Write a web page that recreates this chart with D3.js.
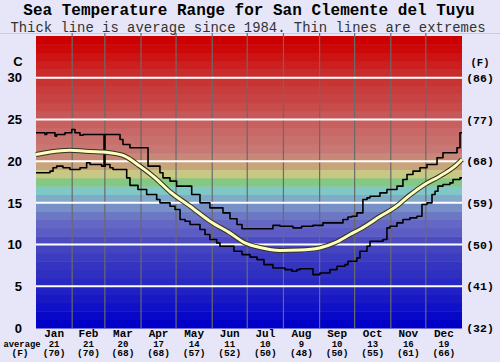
<!DOCTYPE html>
<html>
<head>
<meta charset="utf-8">
<script src="https://cdn.jsdelivr.net/npm/d3@7"></script>
<style>
  body { margin: 0; background: #e6e6f8; }
  svg { display: block; }
</style>
</head>
<body>
<div id="chart"></div>
<script>
// DATA -------------------------------------------------------------------------
const monthNames = ["Jan", "Feb", "Mar", "Apr", "May", "Jun", "Jul", "Aug", "Sep", "Oct", "Nov", "Dec"]
const monthStarts = [0, 31, 59, 90, 120, 151, 181, 212, 243, 273, 304, 334, 365]
const monthAvgC = [21, 21, 20, 17, 14, 11, 10, 9, 10, 13, 16, 19]
const monthAvgF = [70, 70, 68, 68, 57, 52, 50, 48, 50, 55, 61, 66]

const tempTicksC = [0, 5, 10, 15, 20, 25, 30]
const tempTicksF = [32, 41, 50, 59, 68, 77, 86]

// day of year, deg C
const avgTemp = [
  [0, 20.8], [12, 21.1], [29, 21.3], [42, 21.2], [55, 21.1], [63, 21.0], [76, 20.6],
  [89, 19.4], [102, 18.0], [115, 16.3], [132, 14.6], [149, 12.8], [166, 11.4],
  [179, 10.2], [192, 9.65], [209, 9.3], [226, 9.35], [243, 9.6], [256, 10.2],
  [269, 11.2], [282, 12.2], [295, 13.4], [308, 14.5], [320, 15.9], [333, 17.2],
  [346, 18.2], [359, 19.4], [365, 20.2]
]

// step changes: day of year where a new value starts, deg C
const maxTemp = [
  [0, 23.4], [7.7, 23.2], [9.2, 23.4], [16.3, 23.0], [17.7, 23.2], [24.8, 23.4],
  [30.6, 23.8], [33.4, 23.4], [37.7, 23.1], [40.3, 23.2], [58.3, 19.4], [59.1, 23.2],
  [72, 22.6], [74.5, 22.0], [80.5, 21.6], [96, 19.4], [106.2, 18.6], [108.8, 18.0],
  [114.8, 17.6], [120.5, 17.0], [133.4, 16.0], [140.5, 15.0], [149, 14.4],
  [160.2, 13.8], [166.2, 13.1], [172.2, 12.4], [176.5, 11.9], [203, 12.3],
  [209, 12.2], [220.2, 12.0], [227.6, 12.2], [237.3, 12.3], [245.9, 12.6],
  [263, 13.0], [267.3, 13.3], [270.7, 13.4], [275, 13.8], [280.1, 15.4],
  [283.6, 15.6], [286.2, 15.8], [294.7, 16.2], [300.7, 16.6], [309.3, 17.0],
  [314.4, 17.8], [317.9, 18.4], [323, 18.8], [329, 19.2], [335, 19.6],
  [343.6, 20.4], [348.7, 21.0], [360.7, 21.6], [363.3, 23.4], [365, 23.4]
]

const minTemp = [
  [0, 18.6], [12, 18.8], [14.6, 19.2], [17.7, 19.4], [23.1, 19.2], [29.1, 19.0],
  [37.7, 19.2], [43.4, 19.8], [46.3, 19.6], [56.3, 19.4], [59.1, 19.6], [63.4, 19.2],
  [66, 19.0], [77.7, 18.0], [80.5, 17.1], [87.4, 16.6], [94.8, 16.0], [103.4, 15.4],
  [106.2, 15.0], [114.8, 14.6], [119.1, 14.2], [123.4, 13.0], [127.7, 12.8],
  [132, 12.4], [140.5, 11.8], [144.8, 11.2], [149, 10.6], [154.8, 10.2],
  [157.6, 9.8], [169.6, 9.2], [176.5, 8.8], [183.4, 8.5], [189.3, 8.2],
  [195.3, 7.6], [203, 7.2], [213.3, 7.0], [219.3, 6.8], [223.6, 7.0], [226.2, 7.1],
  [237.3, 6.4], [243.3, 6.6], [251.9, 7.0], [257.9, 7.4], [264.8, 7.6],
  [267.3, 8.0], [275, 8.4], [277.6, 9.2], [283.6, 9.8], [286.2, 10.4],
  [297.3, 10.6], [300.7, 12.0], [303.3, 12.2], [309.3, 12.6], [314.4, 13.0],
  [320.4, 13.2], [326.4, 13.4], [330.7, 14.8], [335, 15.0], [339.3, 16.0],
  [341.9, 16.4], [344.4, 17.0], [348.7, 17.2], [354.7, 17.4], [357.3, 17.8],
  [363.3, 18.0], [365, 18.0]
]

// one colour per 1 deg C band, from 0 upwards
const bandColors = [
  "#0000c8", "#0808c8", "#1010c8", "#1818c4", "#2020c4",
  "#2828c4", "#3030c0", "#3434c0", "#3c3cc0", "#4444c0",
  "#4c4cc0", "#5c5cc4", "#6468c4", "#6c78c4", "#7890c8",
  "#80aac8", "#80c8c8", "#84c884", "#c8c884", "#c8a47c",
  "#c88878", "#c87874", "#c8706c", "#c86868", "#c86060",
  "#c85858", "#c84c4c", "#c84444", "#c83c3c", "#c83434",
  "#c82c2c", "#cc2020", "#cc1414", "#cc0808", "#cc0000"
]

// LAYOUT -------------------------------------------------------------------------
const width = 500, height = 362
const plot = { left: 36, right: 462, top: 36, bottom: 328 }
const mono = "Liberation Mono"
const sans = "Liberation Sans"

const x = d3.scaleLinear().domain([0, 365]).range([plot.left, plot.right])
const y = d3.scaleLinear().domain([0, 35]).range([plot.bottom, plot.top])

const svg = d3.select("#chart").append("svg")
  .attr("width", width)
  .attr("height", height)

svg.append("rect")
  .attr("width", width).attr("height", height)
  .attr("fill", "#e6e6f8")

svg.append("line")
  .attr("x1", 0).attr("x2", width)
  .attr("y1", 33.5).attr("y2", 33.5)
  .attr("stroke", "#cacada").attr("stroke-width", 1)

// Colour bands
svg.append("g").selectAll("rect")
  .data(bandColors)
  .join("rect")
  .attr("x", plot.left)
  .attr("width", plot.right - plot.left)
  .attr("y", (d, i) => y(i + 1))
  .attr("height", (d, i) => y(i) - y(i + 1) + 0.5)
  .attr("fill", d => d)

// Month grid lines
svg.append("g").selectAll("line")
  .data(monthStarts.slice(1, -1))
  .join("line")
  .attr("x1", d => x(d)).attr("x2", d => x(d))
  .attr("y1", 33).attr("y2", plot.bottom)
  .attr("stroke", "#6a6a6a").attr("stroke-width", 1.2)

// Temperature grid lines
svg.append("g").selectAll("line")
  .data(tempTicksC.slice(1))
  .join("line")
  .attr("x1", plot.left).attr("x2", plot.right)
  .attr("y1", d => y(d)).attr("y2", d => y(d))
  .attr("stroke", "#ffffff").attr("stroke-width", 2)

// LINES -------------------------------------------------------------------------
const stepLine = d3.line()
  .x(d => x(d[0]))
  .y(d => y(d[1]))
  .curve(d3.curveStepAfter)

const smoothLine = d3.line()
  .x(d => x(d[0]))
  .y(d => y(d[1]))
  .curve(d3.curveMonotoneX)

const lines = svg.append("g").attr("fill", "none").attr("stroke-linejoin", "round")

lines.append("path")
  .attr("d", stepLine(maxTemp))
  .attr("stroke", "#000").attr("stroke-width", 1.6)

lines.append("path")
  .attr("d", stepLine(minTemp))
  .attr("stroke", "#000").attr("stroke-width", 1.6)

lines.append("path")
  .attr("d", smoothLine(avgTemp))
  .attr("stroke", "#333320").attr("stroke-width", 5)

lines.append("path")
  .attr("d", smoothLine(avgTemp))
  .attr("stroke", "#ffffc0").attr("stroke-width", 3)

// TEXT -------------------------------------------------------------------------
const addText = (sel, size, family, weight) => sel
  .attr("font-family", family)
  .attr("font-size", size)
  .attr("font-weight", weight)

svg.append("text")
  .attr("x", 249).attr("y", 15)
  .attr("text-anchor", "middle")
  .attr("fill", "#000")
  .call(addText, 16, mono, "bold")
  .text("Sea Temperature Range for San Clemente del Tuyu")

svg.append("text")
  .attr("x", 248).attr("y", 31.5)
  .attr("text-anchor", "middle")
  .attr("fill", "#333")
  .call(addText, 13.9, mono, "normal")
  .text("Thick line is average since 1984. Thin lines are extremes")

// left axis (C)
svg.append("g").selectAll("text")
  .data(tempTicksC)
  .join("text")
  .attr("x", 22).attr("y", d => y(d))
  .attr("dy", "0.36em")
  .attr("text-anchor", "end")
  .call(addText, 13, sans, "bold")
  .text(d => d)

svg.append("text")
  .attr("x", 18).attr("y", 61).attr("dy", "0.36em")
  .attr("text-anchor", "middle")
  .call(addText, 13, sans, "bold")
  .text("C")

// right axis (F)
svg.append("g").selectAll("text")
  .data(tempTicksC)
  .join("text")
  .attr("x", 480).attr("y", d => y(d))
  .attr("dy", "0.36em")
  .attr("text-anchor", "middle")
  .call(addText, 11.5, mono, "bold")
  .text((d, i) => `(${tempTicksF[i]})`)

svg.append("text")
  .attr("x", 480).attr("y", 62).attr("dy", "0.36em")
  .attr("text-anchor", "middle")
  .call(addText, 10.5, mono, "bold")
  .text("(F)")

// month labels
const months = svg.append("g").selectAll("g")
  .data(monthNames)
  .join("g")
  .attr("transform", (d, i) => `translate(${x((monthStarts[i] + monthStarts[i + 1]) / 2)},0)`)
  .attr("text-anchor", "middle")

months.append("text")
  .attr("y", 337)
  .call(addText, 11, mono, "bold")
  .text(d => d)

months.append("text")
  .attr("y", 346.5)
  .call(addText, 9, mono, "bold")
  .text((d, i) => monthAvgC[i])

months.append("text")
  .attr("y", 356)
  .call(addText, 9.5, mono, "bold")
  .text((d, i) => `(${monthAvgF[i]})`)

svg.append("text")
  .attr("x", 22).attr("y", 346.5)
  .attr("text-anchor", "middle")
  .call(addText, 8.8, mono, "bold")
  .text("average")

svg.append("text")
  .attr("x", 20).attr("y", 356)
  .attr("text-anchor", "middle")
  .call(addText, 9.5, mono, "bold")
  .text("(F)")
</script>
</body>
</html>
